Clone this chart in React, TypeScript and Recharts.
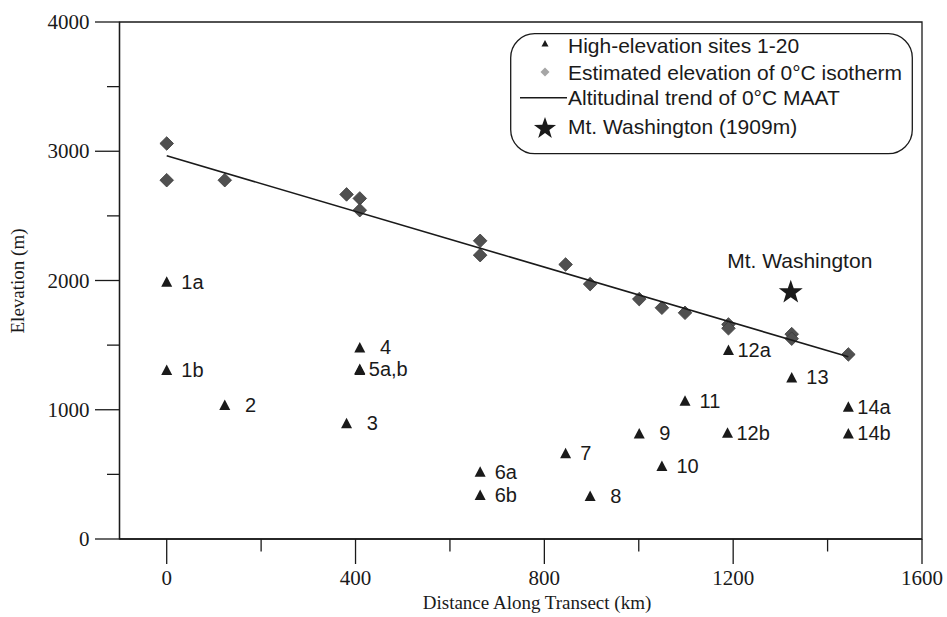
import React from 'react';
import { ScatterChart, Scatter, XAxis, YAxis, ReferenceArea, Legend, Customized } from 'recharts';

// ---- data ----
const siteKm = [0, 0, 123, 381, 409, 409, 409, 664, 664, 845, 897, 1001, 1049, 1098, 1190, 1188, 1324, 1444, 1444];
const siteElev = [1990, 1307, 1036, 895, 1482, 1315, 1308, 520, 340, 663, 333, 817, 565, 1070, 1462, 822, 1250, 1023, 817];
const siteLabels = [' 1a', ' 1b', '  2', '  3', '  4', '5a,b', '', ' 6a', ' 6b', ' 7', '  8', '  9', ' 10', ' 11', '12a', '12b', ' 13', '14a', '14b'];

const isoKm = [0, 0, 123, 381, 409, 409, 664, 664, 845, 897, 1001, 1049, 1098, 1190, 1190, 1324, 1324, 1444];
const isoElev = [3060, 2776, 2776, 2666, 2635, 2544, 2307, 2196, 2124, 1972, 1856, 1789, 1750, 1660, 1630, 1585, 1550, 1428];

const trendKm = [0, 1444];
const trendElev = [2965, 1410];

const mtKm = [1322];
const mtElev = [1909];
const mtLabels = ['Mt. Washington'];

const xTicks = [0, 200, 400, 600, 800, 1000, 1200, 1400, 1600];
const yTicks = [0, 500, 1000, 1500, 2000, 2500, 3000, 3500, 4000];

const xTitle = 'Distance Along Transect (km)';
const yTitle = 'Elevation (m)';
const legendLabels = [
  'High-elevation sites 1-20',
  'Estimated elevation of 0°C isotherm',
  'Altitudinal trend of 0°C MAAT',
  'Mt. Washington (1909m)',
];

// ---- tables built from the arrays ----
const sites = siteKm.map((x, i) => ({ x, y: siteElev[i], label: siteLabels[i] }));
const iso = isoKm.map((x, i) => ({ x, y: isoElev[i] }));
const trend = trendKm.map((x, i) => ({ x, y: trendElev[i] }));
const mt = mtKm.map((x, i) => ({ x, y: mtElev[i], label: mtLabels[i] }));

const SANS = "'Liberation Sans', Arial, Helvetica, sans-serif";
const SERIF = "'Liberation Serif', 'Times New Roman', Times, serif";
const INK = '#1a1a1a';

function starPoints(cx: number, cy: number, R: number, r: number) {
  const pts: string[] = [];
  for (let k = 0; k < 10; k++) {
    const ang = -Math.PI / 2 + (k * Math.PI) / 5;
    const rad = k % 2 === 0 ? R : r;
    pts.push(`${cx + rad * Math.cos(ang)},${cy + rad * Math.sin(ang)}`);
  }
  return pts.join(' ');
}

const TriShape = (props: any) => {
  const { cx, cy, payload } = props;
  if (cx == null || cy == null) return <g />;
  return (
    <g>
      <polygon points={`${cx},${cy - 5.5} ${cx - 5.5},${cy + 5} ${cx + 5.5},${cy + 5}`} fill={INK} />
      {payload && payload.label ? (
        <text x={cx + 9} y={cy + 7} fontFamily={SANS} fontSize={20} fill={INK} style={{ whiteSpace: 'pre' }}>
          {payload.label}
        </text>
      ) : null}
    </g>
  );
};

const DiamondShape = (props: any) => {
  const { cx, cy } = props;
  if (cx == null || cy == null) return <g />;
  const h = 6.8;
  return (
    <polygon
      points={`${cx},${cy - h} ${cx + h},${cy} ${cx},${cy + h} ${cx - h},${cy}`}
      fill="#505050"
      stroke="#3a3a3a"
      strokeWidth={0.8}
    />
  );
};

const StarShape = (props: any) => {
  const { cx, cy, payload } = props;
  if (cx == null || cy == null) return <g />;
  return (
    <g>
      <polygon points={starPoints(cx, cy, 12.6, 5.0)} fill={INK} />
      <text x={cx + 9} y={cy - 24} textAnchor="middle" fontFamily={SANS} fontSize={21} fill={INK}>
        {payload.label}
      </text>
    </g>
  );
};

const NoShape = () => <g />;

const YTick = (props: any) => {
  const { x, y, payload } = props;
  const v = payload.value;
  const major = v % 1000 === 0;
  return (
    <g>
      <line x1={x - (major ? 24.5 : 12.5)} x2={x} y1={y} y2={y} stroke={INK} strokeWidth={1.3} />
      {major ? (
        <text x={x - 30} y={y + 7} textAnchor="end" fontFamily={SERIF} fontSize={21} fill={INK}>
          {v}
        </text>
      ) : null}
    </g>
  );
};

const XTick = (props: any) => {
  const { x, y, payload } = props;
  const v = payload.value;
  const major = v % 400 === 0;
  return (
    <g>
      <line x1={x} x2={x} y1={y} y2={y + (major ? 25 : 12.5)} stroke={INK} strokeWidth={1.3} />
      {major ? (
        <text x={x} y={y + 46} textAnchor="middle" fontFamily={SERIF} fontSize={21} fill={INK}>
          {v}
        </text>
      ) : null}
    </g>
  );
};

const LegendBox = () => {
  const tx = 58;
  const base = [20, 46.5, 71.5, 101];
  return (
    <svg width={403} height={122} style={{ display: 'block', overflow: 'visible' }}>
      <rect x={0.7} y={0.7} width={401.6} height={120} rx={24} ry={24} fill="#fff" stroke={INK} strokeWidth={1.3} />
      <polygon points={`35,7 31.5,13.5 38.5,13.5`} fill={INK} />
      <polygon points={`35,34.5 39.5,39 35,43.5 30.5,39`} fill="#a6a6a6" />
      <line x1={10} x2={57} y1={64.7} y2={64.7} stroke={INK} strokeWidth={1.5} />
      <polygon points={starPoints(35, 95.5, 11.6, 4.6)} fill={INK} />
      {legendLabels.map((t, i) => (
        <text key={t} x={tx} y={base[i]} fontFamily={SANS} fontSize={21} fill={INK}>
          {t}
        </text>
      ))}
    </svg>
  );
};

const Titles = () => (
  <g>
    <text x={537} y={609} textAnchor="middle" fontFamily={SERIF} fontSize={19} fill={INK}>
      {xTitle}
    </text>
    <text transform="translate(24,281) rotate(-90)" textAnchor="middle" fontFamily={SERIF} fontSize={19} fill={INK}>
      {yTitle}
    </text>
  </g>
);

export default function App() {
  return (
    <div style={{ position: 'absolute', left: 0, top: 0, width: 947, height: 617, background: '#fff' }}>
      <ScatterChart width={947} height={617} margin={{ top: 22, right: 25, bottom: 0, left: 0 }}>
        <XAxis
          type="number"
          dataKey="x"
          domain={[-100, 1600]}
          allowDataOverflow
          ticks={xTicks}
          interval={0}
          tickSize={0}
          tickMargin={0}
          tickLine={false}
          tick={XTick}
          height={78}
          axisLine={{ stroke: INK, strokeWidth: 1.3 }}
        />
        <YAxis
          type="number"
          dataKey="y"
          domain={[0, 4000]}
          allowDataOverflow
          ticks={yTicks}
          interval={0}
          tickSize={0}
          tickMargin={0}
          tickLine={false}
          tick={YTick}
          width={119.5}
          axisLine={{ stroke: INK, strokeWidth: 1.3 }}
        />
        <ReferenceArea x1={-100} x2={1600} y1={0} y2={4000} fill="none" fillOpacity={0} stroke={INK} strokeWidth={1.3} />
        <Scatter name="iso" data={iso} shape={DiamondShape} isAnimationActive={false} legendType="none" />
        <Scatter
          name="trend"
          data={trend}
          shape={NoShape}
          line={{ stroke: INK, strokeWidth: 1.6 }}
          isAnimationActive={false}
          legendType="none"
        />
        <Scatter name="sites" data={sites} shape={TriShape} isAnimationActive={false} legendType="none" />
        <Scatter name="mt" data={mt} shape={StarShape} isAnimationActive={false} legendType="none" />
        <Legend
          layout="horizontal"
          verticalAlign="middle"
          align="center"
          content={LegendBox}
          wrapperStyle={{ position: 'absolute', left: 510, top: 33, width: 403, height: 122 }}
        />
        <Customized component={Titles} />
      </ScatterChart>
    </div>
  );
}
